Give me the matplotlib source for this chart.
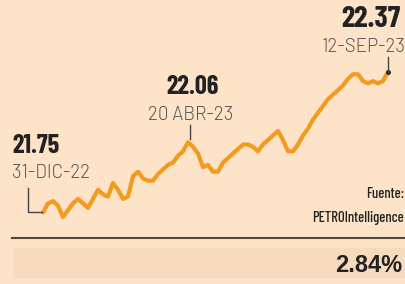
import matplotlib
matplotlib.use('Agg')
import matplotlib.pyplot as plt
from matplotlib.patches import Rectangle
from matplotlib.lines import Line2D
import numpy as np

# Precio (pesos por litro), 31-dic-22 a 12-sep-23
values = [21.75, 21.79, 21.80, 21.78, 21.73, 21.76, 21.79, 21.81, 21.79, 21.77,
          21.81, 21.85, 21.83, 21.82, 21.88, 21.85, 21.81, 21.82, 21.91, 21.93,
          21.90, 21.89, 21.89, 21.92, 21.94, 21.96, 21.97, 22.00, 22.02, 22.06,
          22.04, 22.01, 21.95, 21.96, 21.93, 21.93, 21.97, 21.99, 22.01, 22.03,
          22.05, 22.05, 22.04, 22.02, 22.05, 22.07, 22.09, 22.11, 22.07, 22.02,
          22.02, 22.05, 22.09, 22.12, 22.16, 22.19, 22.22, 22.25, 22.27, 22.29,
          22.31, 22.34, 22.36, 22.36, 22.33, 22.32, 22.33, 22.32, 22.33, 22.37]
labels_date = ['31-DIC-22', '20 ABR-23', '12-SEP-23']
labels_val = ['21.75', '22.06', '22.37']
change = '2.84%'

bg = '#fde3c7'
orange = '#f39a1f'
dark = '#222222'
grey = '#555555'

W, H = 405, 284
fig = plt.figure(figsize=(W / 100, H / 100), dpi=100)
fig.patch.set_facecolor(bg)

# axes placed so the line spans x 43..388 px, y 217..72 px
ax = fig.add_axes([43 / W, (H - 217) / H, 345 / W, 145 / H])
ax.set_xlim(0, len(values) - 1)
ax.set_ylim(min(values), max(values))
ax.axis('off')

x = np.arange(len(values))
ax.plot(x, values, color=orange, lw=3, solid_joinstyle='round',
        solid_capstyle='round', clip_on=False, zorder=3)

cond = 'Barlow Condensed'
idx = [0, int(np.argmax(values[:40])), len(values) - 1]


def px(i):
    # data point -> pixel coords from top-left
    xd, yd = ax.transData.transform((i, values[i]))
    return xd, H - yd


def seg(xs, ys, **kw):
    fig.add_artist(Line2D([v / W for v in xs], [1 - v / H for v in ys],
                          transform=fig.transFigure, **kw))


def label(xp, yp, s, ha, size=None):
    if size:
        fig.text(xp / W, 1 - yp / H, s, ha=ha, va='baseline', fontsize=size,
                 fontweight='bold', family=cond, color=dark)
    else:
        fig.text(xp / W, 1 - yp / H, s, ha=ha, va='baseline', fontsize=13.5,
                 family='Barlow', fontweight=300, color=grey)


# start
x0, y0 = px(idx[0])
label(x0 - 31, y0 - 59, labels_val[0], 'left', 19)
label(x0 - 31, y0 - 34, labels_date[0], 'left')
seg([x0 - 15, x0 - 15, x0 - 1], [y0 - 24, y0, y0], color='#444444', lw=1)

# peak
x1, y1 = px(idx[1])
label(x1 + 5, y1 - 48, labels_val[1], 'center', 19)
label(x1 + 3, y1 - 22, labels_date[1], 'center')
seg([x1 + 2, x1 + 2], [y1 - 17, y1 - 3], color='#444444', lw=1)

# end
x2, y2 = px(idx[2])
label(x2 - 47, y2 - 45, labels_val[2], 'left', 22)
label(x2 - 24, y2 - 20, labels_date[2], 'center')
seg([x2, x2], [y2 - 15, y2], color='#444444', lw=1)
ax.plot([idx[2]], [values[idx[2]]], 'o', color=dark, ms=2.5, clip_on=False, zorder=4)

# source
fig.text(404 / W, 1 - 198 / H, 'Fuente:', ha='right', va='baseline',
         fontsize=10.5, family=cond, fontweight='medium', color=dark)
fig.text(404 / W, 1 - 222 / H, 'PETROIntelligence', ha='right', va='baseline',
         fontsize=10.5, family=cond, fontweight='medium', color=dark)

# bottom band with change
fig.add_artist(Line2D([12 / W, 1], [1 - 238 / H] * 2, color='#4a4a4a', lw=1.5))
fig.patches.append(Rectangle((14 / W, 1 - 278 / H), 1 - 14 / W, 30 / H,
                             transform=fig.transFigure, facecolor='#f8dbbd',
                             edgecolor='none', figure=fig))
fig.text(402 / W, 1 - 272 / H, change, ha='right', va='baseline', fontsize=17,
         fontweight='bold', family='Liberation Sans', color=dark)

fig.savefig('out.png', dpi=100, facecolor=bg)
